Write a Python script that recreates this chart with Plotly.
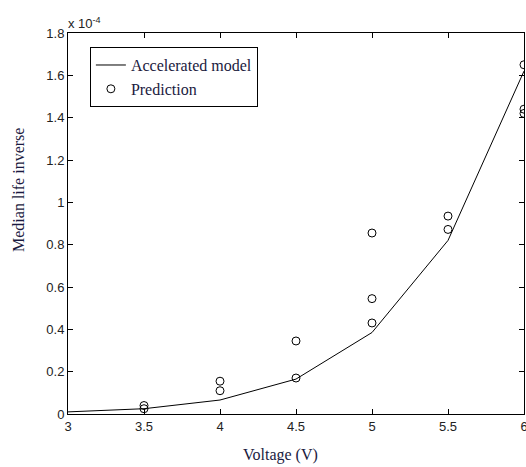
import plotly.graph_objects as go

# Accelerated model curve (median life inverse, units of 1e-4)
model_voltage = [3.0, 3.5, 4.0, 4.5, 5.0, 5.5, 6.0]
model_value = [0.01, 0.025, 0.066, 0.165, 0.385, 0.82, 1.62]

# Predicted points
pred_voltage = [3.5, 3.5, 4.0, 4.0, 4.5, 4.5, 5.0, 5.0, 5.0, 5.5, 5.5, 6.0, 6.0, 6.0]
pred_value = [0.04, 0.025, 0.155, 0.11, 0.17, 0.345, 0.855, 0.545, 0.43, 0.935, 0.872, 1.65, 1.44, 1.42]

x_ticks = [3, 3.5, 4, 4.5, 5, 5.5, 6]
y_ticks = [0, 0.2, 0.4, 0.6, 0.8, 1, 1.2, 1.4, 1.6, 1.8]

tick_font = dict(family="Liberation Sans, Arial", size=13, color="#222")
serif = dict(family="Liberation Serif, Times New Roman", size=16, color="#1a1a40")

fig = go.Figure()
fig.add_trace(go.Scatter(
    x=model_voltage, y=model_value, mode="lines", name="Accelerated model",
    line=dict(color="black", width=1),
))
fig.add_trace(go.Scatter(
    x=pred_voltage, y=pred_value, mode="markers", name="Prediction",
    marker=dict(symbol="circle-open", size=8, color="black", line=dict(width=1)),
))

axis_common = dict(
    showline=True, linecolor="black", linewidth=1, mirror="ticks",
    ticks="inside", ticklen=5, tickcolor="black", tickwidth=1,
    showgrid=False, zeroline=False, tickfont=tick_font,
    ticklabeloverflow="allow", automargin=False,
)
fig.update_xaxes(range=[3, 6], tickvals=x_ticks, ticktext=[f"{v:g}" for v in x_ticks],
                 **axis_common)
fig.update_yaxes(range=[0, 1.8], tickvals=y_ticks, ticktext=[f"{v:g}" for v in y_ticks],
                 **axis_common)

# Axis labels
fig.add_annotation(
    x=0.467, y=-0.1076, xref="paper", yref="paper", xanchor="center", yanchor="middle",
    text="Voltage (V)", showarrow=False, font=serif,
)
fig.add_annotation(
    x=0, y=0.588, xref="paper", yref="paper", xanchor="center", yanchor="middle",
    xshift=-49, textangle=-90,
    text="Median life inverse", showarrow=False, font=serif,
)

# Exponent multiplier for the y axis
fig.add_annotation(
    x=0, y=1, xref="paper", yref="paper", xanchor="left", yanchor="bottom",
    text="x 10<sup>-4</sup>", showarrow=False, font=tick_font, xshift=-2, yshift=0,
)

fig.update_layout(
    width=526, height=467,
    margin=dict(l=68, r=2, t=33, b=53),
    paper_bgcolor="white", plot_bgcolor="white",
    legend=dict(
        x=0.048, y=0.963, xanchor="left", yanchor="top",
        bordercolor="black", borderwidth=1, bgcolor="white",
        font=dict(family="Liberation Serif, Times New Roman", size=16, color="#1a1a40"),
        itemwidth=30, tracegroupgap=0,
    ),
)

fig.write_html("out.html")
